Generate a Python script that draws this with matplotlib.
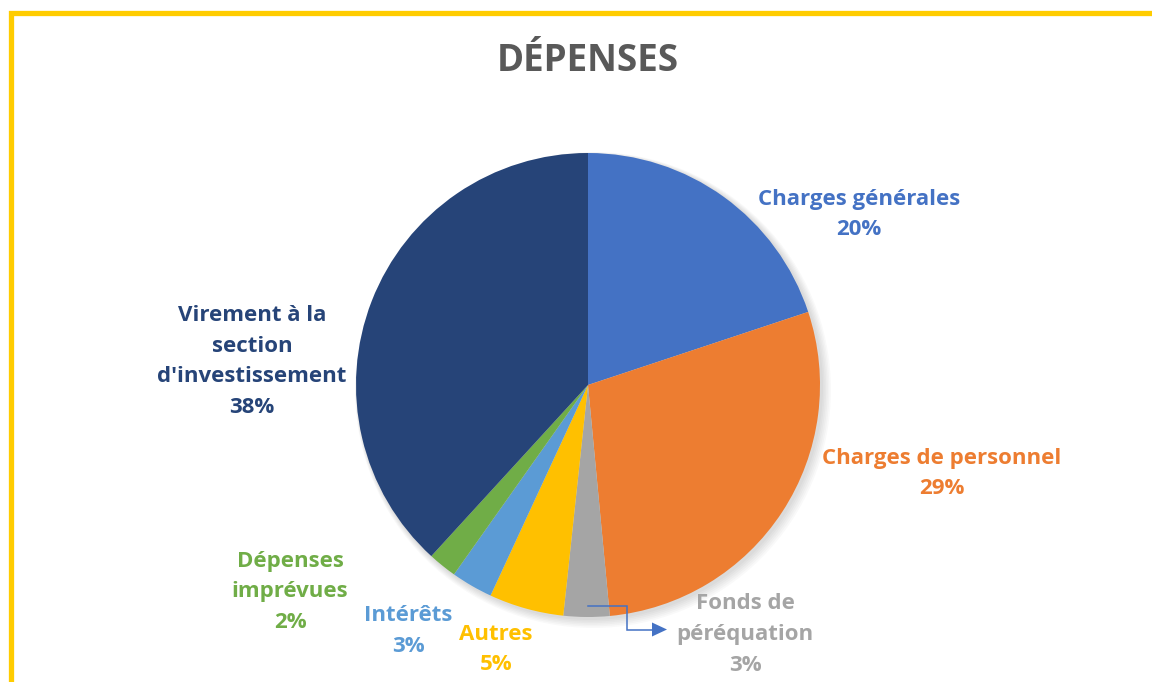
import matplotlib
matplotlib.use("Agg")
import matplotlib.pyplot as plt
from matplotlib.patches import Rectangle, Circle, Polygon

categories = ["Charges générales", "Charges de personnel", "Fonds de péréquation",
              "Autres", "Intérêts", "Dépenses imprévues",
              "Virement à la section d'investissement"]
values = [19.9, 28.6, 3.2, 5.2, 2.9, 2.0, 38.2]
pct_labels = ["20%", "29%", "3%", "5%", "3%", "2%", "38%"]
label_lines = ["Charges générales", "Charges de personnel", "Fonds de\npéréquation",
               "Autres", "Intérêts", "Dépenses\nimprévues",
               "Virement à la\nsection\nd'investissement"]
colors = ["#4472C4", "#ED7D31", "#A5A5A5", "#FFC000", "#5B9BD5", "#70AD47", "#264478"]
title = "DÉPENSES"

W, H = 1152, 682
fig = plt.figure(figsize=(W / 100, H / 100), dpi=100)
ax = fig.add_axes([0, 0, 1, 1])
ax.set_xlim(0, W)
ax.set_ylim(0, H)
ax.set_aspect("equal")
ax.axis("off")

cx, cy, r = 588, H - 385, 232

# soft shadow
for i in range(6):
    ax.add_patch(Circle((cx + 2 + i * 0.6, cy - 2 - i * 0.6), r + 1 + i, color="#000000",
                        alpha=0.025, lw=0, zorder=1))

ax.pie(values, colors=colors, startangle=90, counterclock=False,
       center=(cx, cy), radius=r, wedgeprops=dict(linewidth=0, zorder=2),
       frame=True)
ax.set_xlim(0, W)
ax.set_ylim(0, H)
ax.axis("off")

# label centers (pixel, from top)
label_pos = [(859, 214.5), (942, 473.5), (745, 634.5), (496, 649.5),
             (408, 631), (290, 592), (252, 361.5)]
fs = 16
for txt, pct, col, (lx, ly) in zip(label_lines, pct_labels, colors, label_pos):
    ax.text(lx, H - ly, txt + "\n" + pct, ha="center", va="center", color=col,
            fontsize=fs, fontweight="bold", family="Open Sans", linespacing=1.6,
            zorder=5)

ax.text(588, H - 61, title, ha="center", va="center", color="#595959",
        fontsize=26.5, fontweight="bold", family="Open Sans", zorder=5)

# leader line with arrow for Fonds de péréquation
ax.plot([588, 627, 627, 653], [H - 605.5, H - 605.5, H - 629.5, H - 629.5],
        color="#4472C4", lw=1.1, zorder=6, solid_joinstyle="miter")
ax.add_patch(Polygon([[652, H - 622.5], [667, H - 629.5], [652, H - 636.5]],
                     closed=True, color="#4472C4", lw=0, zorder=6))

# yellow frame (top and left)
fig.patches.append(Rectangle((10.5, -50), 3000, H - 12.5 + 50, transform=None,
                             fill=False, edgecolor="#FFCC00", lw=3.8, zorder=10))

fig.savefig("out.png", dpi=100)
